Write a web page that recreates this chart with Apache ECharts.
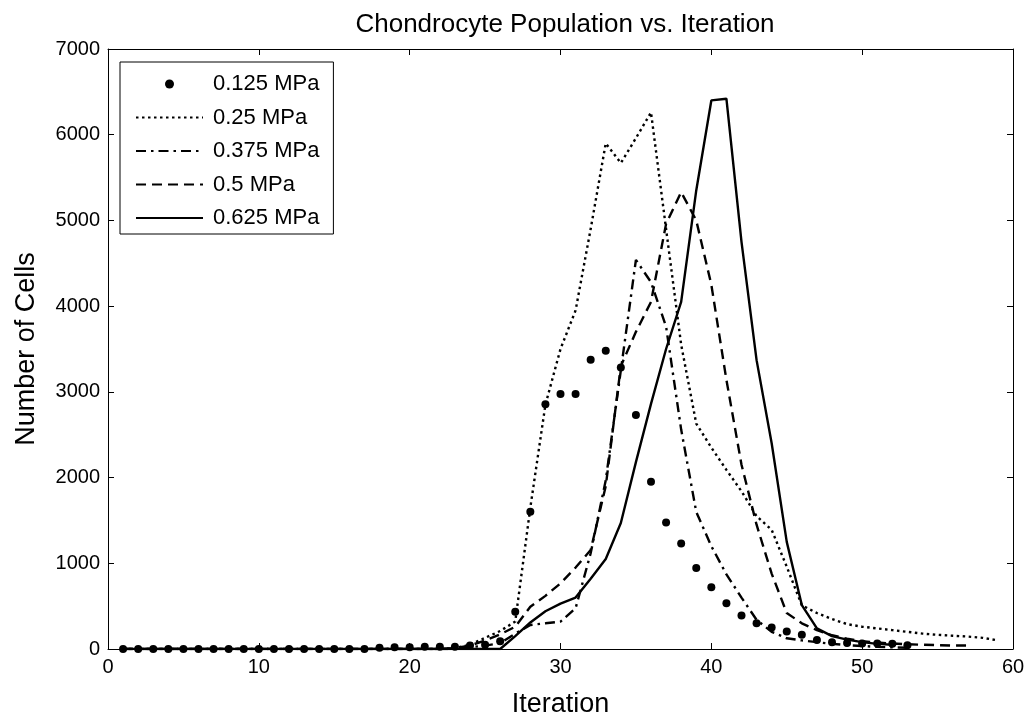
<!DOCTYPE html>
<html>
<head>
<meta charset="utf-8">
<script src="https://cdn.jsdelivr.net/npm/echarts@6/dist/echarts.min.js"></script>
<style>
html,body{margin:0;padding:0;background:#fff;}
#c{width:1030px;height:721px;}
</style>
</head>
<body>
<div id="c"></div>
<script>
// Data (iteration starts at 1)
const seriesNames = ['0.125 MPa', '0.25 MPa', '0.375 MPa', '0.5 MPa', '0.625 MPa'];
const p0125 = [0,0,0,0,0,0,0,0,0,0,0,0,0,0,0,0,0,
  15,20,20,25,25,25,
  40,50,90,435,1600,
  2855,2975,2975,3375,3480,3285,2730,
  1950,1475,1230,945,720,535,390,300,250,205,165,105,
  80,70,65,65,60,45];
const p025 = [0,0,0,0,0,0,0,0,0,0,0,0,0,0,0,0,0,0,0,0,0,0,
  10,50,130,210,320,1650,2850,3500,3950,4900,5900,5670,5960,6260,
  4900,3550,2630,2350,2090,1840,1550,1390,960,510,
  420,350,290,260,240,220,200,180,165,155,145,130,100];
const p0375 = [0,0,0,0,0,0,0,0,0,0,0,0,0,0,0,0,0,0,0,0,0,0,0,
  20,40,66,180,280,300,320,475,1117,1970,3250,4540,4280,3760,2560,1600,
  1200,870,600,340,200,125,100,80,60,45,35,25,20,15];
const p05 = [0,0,0,0,0,0,0,0,0,0,0,0,0,0,0,0,0,0,0,0,0,0,
  10,40,100,170,260,494,620,766,950,1155,1900,3300,3700,4050,4960,5330,
  5000,4250,3140,2150,1450,880,420,300,220,160,120,90,75,65,55,50,45,40,40];
const p0625 = [0,0,0,0,0,0,0,0,0,0,0,0,0,0,0,0,0,0,0,0,0,0,0,0,0,0,
  150,310,440,530,600,820,1050,1470,2180,2860,3500,4050,5350,6400,6420,
  4750,3370,2400,1250,513,241,150,110,80,60,50];
const xTicks = {min: 0, max: 60, interval: 10};
const yTicks = {min: 0, max: 7000, interval: 1000};

function pairs(arr){ return arr.map((v,i)=>[i+1, v]); }

const chart = echarts.init(document.getElementById('c'), null, {renderer:'canvas'});
const font = 'Liberation Sans, Arial, Helvetica, sans-serif';
const axisCommon = {
  axisLine:{show:true, onZero:false, lineStyle:{color:'#000', width:1}},
  axisTick:{show:true, inside:true, length:6, lineStyle:{color:'#000'}},
  splitLine:{show:false},
};
const lineBase = (name, data, dash) => ({
  name, type:'line', data: pairs(data), symbol:'none', showSymbol:false,
  lineStyle:{color:'#000', width:2.4, type: dash, cap:'butt'},
  itemStyle:{color:'#000'}, animation:false
});
const noSym = {opacity:0, color:'rgba(0,0,0,0)', borderWidth:0};
chart.setOption({
  animation:false,
  backgroundColor:'#fff',
  title:{text:'Chondrocyte Population vs. Iteration', left:560, top:7, textAlign:'center',
    textStyle:{fontFamily:font, fontSize:26, fontWeight:'normal', color:'#000'}},
  grid:{left:108, right:17, top:49, bottom:72, containLabel:false, outerBoundsMode:'none'},
  legend:{
    orient:'vertical', left:120, top:62,
    data: [
      {name:seriesNames[0]},
      {name:seriesNames[1], itemStyle:noSym},
      {name:seriesNames[2], itemStyle:noSym},
      {name:seriesNames[3], itemStyle:noSym},
      {name:seriesNames[4], itemStyle:noSym}
    ],
    backgroundColor:'#fff', borderColor:'#000', borderWidth:1,
    padding:[11,14,5,15], itemGap:11.5, itemWidth:67, itemHeight:9,
    textStyle:{fontFamily:font, fontSize:22, color:'#000', padding:[0,0,0,5]}
  },
  xAxis:[
    Object.assign({type:'value', position:'bottom', min:xTicks.min, max:xTicks.max, interval:xTicks.interval,
      name:'Iteration', nameLocation:'middle', nameGap:42,
      nameTextStyle:{fontFamily:font, fontSize:27, color:'#000'},
      axisLabel:{fontFamily:font, fontSize:20, color:'#000', margin:8}}, axisCommon),
    Object.assign({type:'value', position:'top', min:xTicks.min, max:xTicks.max, interval:xTicks.interval,
      axisLabel:{show:false}}, axisCommon)
  ],
  yAxis:[
    Object.assign({type:'value', position:'left', min:yTicks.min, max:yTicks.max, interval:yTicks.interval,
      name:'Number of Cells', nameLocation:'middle', nameGap:68, nameRotate:90,
      nameTextStyle:{fontFamily:font, fontSize:27, color:'#000'},
      axisLabel:{fontFamily:font, fontSize:20, color:'#000', margin:8, formatter:(v)=>String(v)}}, axisCommon),
    Object.assign({type:'value', position:'right', min:yTicks.min, max:yTicks.max, interval:yTicks.interval,
      axisLabel:{show:false}}, axisCommon)
  ],
  series:[
    {name:seriesNames[0], type:'scatter', data:pairs(p0125), symbol:'circle', symbolSize:8,
      itemStyle:{color:'#000', opacity:1}, z:5},
    lineBase(seriesNames[1], p025, [2.5,3.5]),
    lineBase(seriesNames[2], p0375, [10,5,2.5,5]),
    lineBase(seriesNames[3], p05, [10,6]),
    lineBase(seriesNames[4], p0625, 'solid')
  ]
});
</script>
</body>
</html>
